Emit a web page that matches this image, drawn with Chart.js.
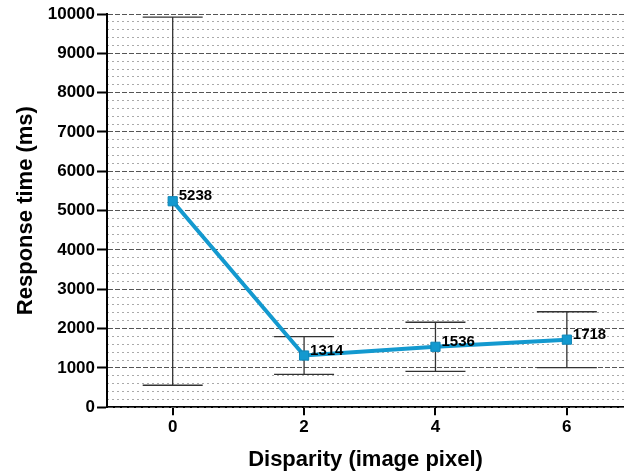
<!DOCTYPE html>
<html>
<head>
<meta charset="utf-8">
<script src="https://cdn.jsdelivr.net/npm/chart.js@4/dist/chart.umd.min.js"></script>
<style>
  body { margin: 0; background: #fff; }
  #wrap { width: 624px; height: 473px; }
</style>
</head>
<body>
<div id="wrap"><canvas id="myChart"></canvas></div>
<script>
const disparity = [0, 2, 4, 6];
const meanTime = [5238, 1314, 1536, 1718];
const errTime = [4680, 480, 625, 710];
const xTicks = [0, 2, 4, 6];

const lineColor = '#1399cf';
const fontFam = '"Liberation Sans", Arial, sans-serif';

// error bars, drawn under the line
const errorBars = {
  id: 'errorBars',
  beforeDatasetsDraw(chart) {
    const { ctx, scales: { x, y } } = chart;
    ctx.save();
    ctx.strokeStyle = '#333';
    ctx.lineWidth = 1.3;
    disparity.forEach((d, i) => {
      const px = x.getPixelForValue(d);
      const top = y.getPixelForValue(meanTime[i] + errTime[i]);
      const bot = y.getPixelForValue(meanTime[i] - errTime[i]);
      ctx.beginPath();
      ctx.moveTo(px, top); ctx.lineTo(px, bot);
      ctx.moveTo(px - 30, top); ctx.lineTo(px + 30, top);
      ctx.moveTo(px - 30, bot); ctx.lineTo(px + 30, bot);
      ctx.stroke();
    });
    ctx.restore();
  }
};

const valueLabels = {
  id: 'valueLabels',
  afterDatasetsDraw(chart) {
    const { ctx } = chart;
    const meta = chart.getDatasetMeta(0);
    ctx.save();
    ctx.font = 'bold 15px ' + fontFam;
    ctx.fillStyle = '#000';
    ctx.textAlign = 'left';
    ctx.textBaseline = 'alphabetic';
    meta.data.forEach((pt, i) => {
      ctx.fillText(String(meanTime[i]), pt.x + 6, pt.y - 1);
    });
    ctx.restore();
  }
};

const ctx = document.getElementById('myChart').getContext('2d');

new Chart(ctx, {
  type: 'line',
  data: {
    datasets: [{
      data: disparity.map((d, i) => ({ x: d, y: meanTime[i] })),
      borderColor: lineColor,
      backgroundColor: lineColor,
      borderWidth: 4,
      pointStyle: 'rect',
      pointRadius: 6.5,
      pointBorderWidth: 1,
      pointBorderColor: '#0f86b8',
      tension: 0,
      clip: false
    }]
  },
  options: {
    responsive: true,
    maintainAspectRatio: false,
    animation: false,
    layout: { autoPadding: false, padding: { top: 14, right: 0, left: 0, bottom: 0 } },
    plugins: {
      legend: { display: false },
      tooltip: { enabled: false }
    },
    scales: {
      x: {
        type: 'linear',
        min: -1,
        max: 6.87,
        afterBuildTicks: (scale) => { scale.ticks = xTicks.map(v => ({ value: v })); },
        ticks: {
          color: '#000',
          padding: 2,
          callback: (v) => String(v),
          font: { family: fontFam, size: 17, weight: 'bold' }
        },
        grid: {
          drawOnChartArea: false,
          tickLength: 8,
          tickColor: '#000',
          lineWidth: 2
        },
        border: { color: '#000', width: 2 },
        title: {
          display: true,
          text: 'Disparity (image pixel)',
          color: '#000',
          padding: { top: 7, bottom: 0 },
          font: { family: fontFam, size: 22, weight: 'bold' }
        }
      },
      y: {
        min: 0,
        max: 10000,
        afterFit: (scale) => { scale.width = 107; },
        ticks: {
          stepSize: 1000,
          color: '#000',
          padding: 2,
          callback: (v) => String(v),
          font: { family: fontFam, size: 17, weight: 'bold' }
        },
        grid: {
          color: '#555',
          lineWidth: 1,
          tickLength: 10,
          tickColor: '#000',
          tickWidth: 2,
          z: 0
        },
        border: { color: '#000', width: 2, dash: [5, 2] },
        title: {
          display: true,
          text: 'Response time (ms)',
          color: '#000',
          padding: { top: 13, bottom: 4 },
          font: { family: fontFam, size: 22, weight: 'bold' }
        }
      },
      yMinor: {
        position: 'right',
        min: 0,
        max: 10000,
        afterFit: (scale) => { scale.width = 0; },
        ticks: { display: false, stepSize: 200 },
        grid: {
          drawTicks: false,
          color: (c) => (c.tick && c.tick.value % 1000 === 0) ? 'rgba(0,0,0,0)' : '#aaa',
          lineWidth: 1
        },
        border: { display: false, dash: [2, 3] }
      }
    }
  },
  plugins: [errorBars, valueLabels]
});
</script>
</body>
</html>
